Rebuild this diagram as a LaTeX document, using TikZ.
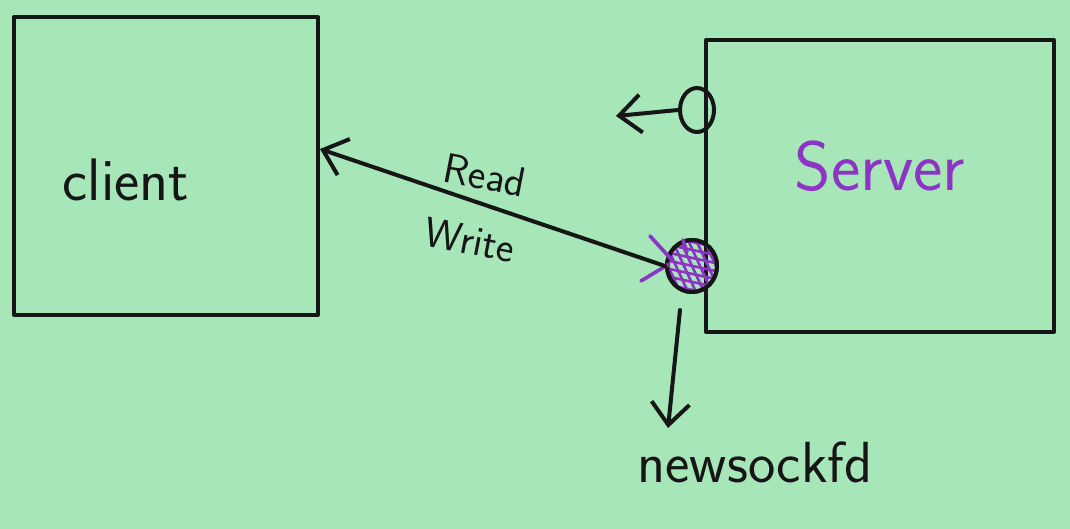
\documentclass[tikz,border=0pt]{standalone}
\usepackage{fontspec}
\usetikzlibrary{arrows.meta,shapes.geometric}
\definecolor{paper}{RGB}{166,230,184}
\definecolor{ink}{RGB}{22,22,22}
\definecolor{pen}{RGB}{140,52,196}
\tikzset{
  stroke/.style={draw=ink, line width=4pt, line cap=round, line join=round},
  box/.style={stroke, rectangle, inner sep=0pt},
  port/.style={stroke, ellipse, inner sep=0pt},
  barb/.style={-{Straight Barb[length=22pt,width=38pt,line width=4pt]}},
  hand/.style={font=\sffamily\fontsize{60}{60}\selectfont, text=ink, inner sep=0pt},
  small/.style={font=\sffamily\fontsize{42}{42}\selectfont, text=ink, inner sep=0pt},
}
\begin{document}
\begin{tikzpicture}[x=1pt,y=-1pt]
  \fill[paper] (0,0) rectangle (1070,529);
  \useasboundingbox (0,0) rectangle (1070,529);

  % boxes
  \node[box, minimum width=304pt, minimum height=298pt] (client) at (166,166) {};
  \node[box, minimum width=348pt, minimum height=292pt] (server) at (880,186) {};
  \node[hand] (clientlbl) at (126,180) {client};
  \node[hand, text=pen, font=\sffamily\fontsize{70}{70}\selectfont] (serverlbl) at (880,166) {Server};

  % listening socket (open circle) and its arrow
  \node[port, minimum width=34pt, minimum height=44pt] (listen) at (697,110) {};
  \coordinate (listenout) at (616,116);
  \draw[stroke, barb] (listen.west) -- (listenout);

  % accepted socket (hatched circle)
  \node[port, minimum width=50pt, minimum height=52pt] (accepted) at (692,266) {};
  \begin{scope}
    \clip (accepted.center) ellipse (24pt and 25pt);
    \foreach \k in {-40,-32,...,40} {
      \draw[pen, line width=2.6pt] (692+\k-12,240) -- (692+\k+12,292);
      \draw[pen, line width=2.6pt] (665,266+\k-6) -- (720,266+\k+6);
    }
  \end{scope}
  \node[port, minimum width=50pt, minimum height=52pt] at (accepted.center) {};
  % purple barbs at the accepted socket
  \draw[pen, line width=3.6pt, line cap=round] (650,236) -- (671,259);
  \draw[pen, line width=3.6pt, line cap=round] (641,281) -- (669,264);
  \draw[pen, line width=3.6pt, line cap=round] (683,240) -- (687,252);

  % read/write connection to the client
  \coordinate (clientport) at ([yshift=17pt]client.east);
  \draw[stroke, barb] (accepted.west) -- (clientport);
  \node[small, rotate=-11] (readlbl) at (485,175) {Read};
  \node[small, rotate=-11] (writelbl) at (470,240) {Write};

  % new socket descriptor
  \coordinate (nsfrom) at (680,310);
  \coordinate (nsto) at (668,428);
  \draw[stroke, barb] (nsfrom) -- (nsto);
  \node[hand, font=\sffamily\fontsize{58}{58}\selectfont] (nslbl) at (755,462) {newsockfd};
\end{tikzpicture}
\end{document}
